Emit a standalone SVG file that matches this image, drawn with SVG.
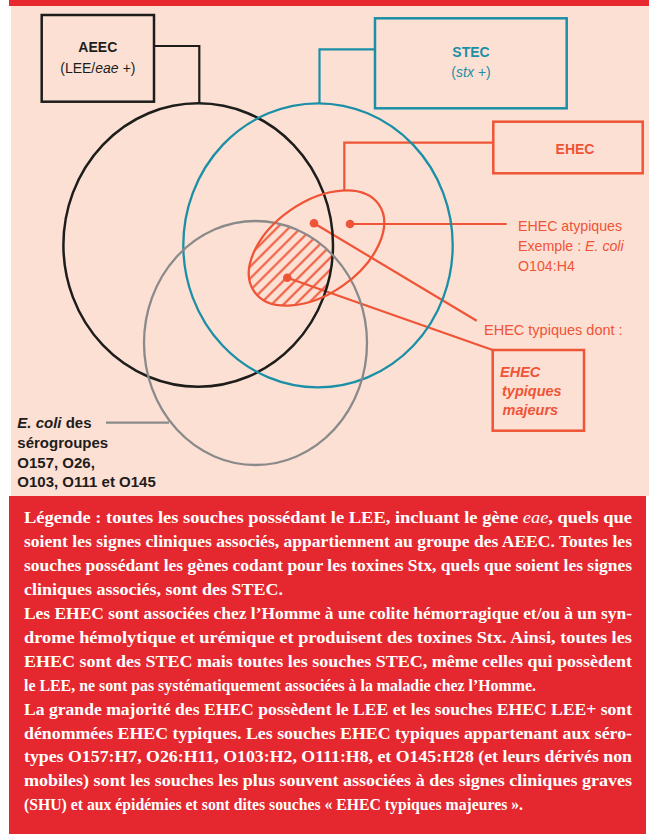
<svg xmlns="http://www.w3.org/2000/svg" width="649" height="834" viewBox="0 0 649 834">
<style>
.sans{font-family:"Liberation Sans",Arial,sans-serif}
.blk{fill:#1d1d1b}
.teal{fill:#1b8fa6}
.red{fill:#ef5436}
.leg{font-family:"Liberation Serif","Times New Roman",serif;font-weight:bold;font-size:17px;fill:#ffffff}
.box{fill:none;stroke-width:2.5}
.conn{fill:none;stroke-width:2.2}
</style>
<defs>
<pattern id="hatch" width="12" height="8.4" patternUnits="userSpaceOnUse" patternTransform="rotate(-45)">
<line x1="0" y1="4.2" x2="12" y2="4.2" stroke="#ef5436" stroke-width="2"/>
</pattern>
<clipPath id="cEhec"><ellipse cx="316.5" cy="248" rx="76" ry="46" transform="rotate(-35 316.5 248)"/></clipPath>
<clipPath id="cGrey"><ellipse cx="255.5" cy="343" rx="111.5" ry="122"/></clipPath>
<clipPath id="cBlack"><ellipse cx="198.2" cy="245" rx="134.8" ry="141.7"/></clipPath>
</defs>
<rect x="0" y="0" width="649" height="834" fill="#ffffff"/>
<rect x="11" y="5" width="638" height="491" fill="#fde0d4"/>
<rect x="9" y="0" width="640" height="6" fill="#e8282f"/>
<rect x="9" y="496" width="637" height="338" fill="#e5282f"/>

<g id="hatched" clip-path="url(#cEhec)"><g clip-path="url(#cGrey)"><g clip-path="url(#cBlack)">
<rect x="230" y="180" width="160" height="140" fill="url(#hatch)"/>
</g></g></g>

<g id="connectors">
<polyline class="conn" stroke="#1d1d1b" points="154,46 199.3,46 199.3,103.5"/>
<polyline class="conn" stroke="#1b8fa6" points="375,49.3 319.5,49.3 319.5,103.5"/>
<polyline class="conn" stroke="#ef5436" points="493.3,142.7 344.3,142.7 344.3,190"/>
<line class="conn" stroke="#8a8a8a" x1="106" y1="422.7" x2="169" y2="422.7"/>
<line class="conn" stroke="#ef5436" x1="350" y1="224" x2="506.7" y2="224"/>
<line class="conn" stroke="#ef5436" x1="314" y1="223.3" x2="476.7" y2="320.7"/>
<line class="conn" stroke="#ef5436" x1="287.3" y1="277.7" x2="492.7" y2="350"/>
</g>

<g id="circle-aeec"><ellipse cx="198.2" cy="245" rx="134.8" ry="141.7" fill="none" stroke="#1d1d1b" stroke-width="2.5"/></g>
<g id="circle-stec"><ellipse cx="318" cy="245.3" rx="134.7" ry="142" fill="none" stroke="#1b8fa6" stroke-width="2.3"/></g>
<g id="circle-sero"><ellipse cx="255.5" cy="343" rx="111.5" ry="122" fill="none" stroke="#8a8a8a" stroke-width="2.3"/></g>
<g id="ellipse-ehec"><ellipse cx="316.5" cy="248" rx="76" ry="46" transform="rotate(-35 316.5 248)" fill="none" stroke="#ef5436" stroke-width="2.3"/></g>

<g id="dots" fill="#ef5436">
<circle cx="314" cy="223.3" r="4.3"/>
<circle cx="287.3" cy="277.7" r="4.3"/>
<circle cx="350" cy="224" r="4.3"/>
</g>

<g id="node-aeec">
<rect class="box" x="41.7" y="15" width="112.3" height="86.7" stroke="#1d1d1b"/>
<text class="sans blk" x="97.8" y="51.7" font-size="14" font-weight="bold" text-anchor="middle">AEEC</text>
<text class="sans blk" x="97.8" y="72.7" font-size="14" text-anchor="middle">(LEE/<tspan font-style="italic">eae +</tspan>)</text>
</g>

<g id="node-stec">
<rect class="box" x="375" y="18.3" width="191.7" height="90" stroke="#1b8fa6"/>
<text class="sans teal" x="471" y="56.7" font-size="14" font-weight="bold" text-anchor="middle">STEC</text>
<text class="sans teal" x="471" y="77.3" font-size="14" text-anchor="middle">(<tspan font-style="italic">stx +</tspan>)</text>
</g>

<g id="node-ehec">
<rect class="box" x="493.3" y="121.7" width="149.4" height="51.6" stroke="#ef5436"/>
<text class="sans red" x="575" y="154" font-size="14" font-weight="bold" text-anchor="middle">EHEC</text>
</g>

<g id="label-atypiques" class="sans red" font-size="14.2">
<text x="518" y="230.7">EHEC atypiques</text>
<text x="518" y="250.7">Exemple : <tspan font-style="italic">E. coli</tspan></text>
<text x="518" y="270.7">O104:H4</text>
</g>

<g id="label-typiques">
<text class="sans red" x="484" y="335" font-size="14.5">EHEC typiques dont :</text>
</g>

<g id="node-majeurs">
<rect class="box" x="492.7" y="350" width="91.3" height="80.7" stroke="#ef5436"/>
<g class="sans red" font-size="14.5" font-weight="bold" font-style="italic">
<text x="500" y="376.7">EHEC</text>
<text x="502" y="395.5">typiques</text>
<text x="502.5" y="415">majeurs</text>
</g>
</g>

<g id="label-sero" class="sans blk" font-size="15" font-weight="bold">
<text x="17.3" y="427.7"><tspan font-style="italic">E. coli</tspan> des</text>
<text x="17.3" y="447.7">sérogroupes</text>
<text x="17.3" y="467.7">O157, O26,</text>
<text x="17.3" y="486.7">O103, O111 et O145</text>
</g>

<g id="legend" class="leg">
<text x="24" y="523.3" textLength="608" lengthAdjust="spacingAndGlyphs">Légende : toutes les souches possédant le LEE, incluant le gène <tspan font-style="italic" font-weight="normal">eae</tspan>, quels que</text>
<text x="24" y="547.3" textLength="608" lengthAdjust="spacingAndGlyphs">soient les signes cliniques associés, appartiennent au groupe des AEEC. Toutes les</text>
<text x="24" y="571.2" textLength="608" lengthAdjust="spacingAndGlyphs">souches possédant les gènes codant pour les toxines Stx, quels que soient les signes</text>
<text x="24" y="595.1" textLength="259" lengthAdjust="spacingAndGlyphs">cliniques associés, sont des STEC.</text>
<text x="24" y="619" textLength="608" lengthAdjust="spacingAndGlyphs">Les EHEC sont associées chez l’Homme à une colite hémorragique et/ou à un syn-</text>
<text x="24" y="642.9" textLength="608" lengthAdjust="spacingAndGlyphs">drome hémolytique et urémique et produisent des toxines Stx. Ainsi, toutes les</text>
<text x="24" y="666.8" textLength="608" lengthAdjust="spacingAndGlyphs">EHEC sont des STEC mais toutes les souches STEC, même celles qui possèdent</text>
<text x="24" y="690.7" textLength="512" lengthAdjust="spacingAndGlyphs">le LEE, ne sont pas systématiquement associées à la maladie chez l’Homme.</text>
<text x="24" y="714.6" textLength="608" lengthAdjust="spacingAndGlyphs">La grande majorité des EHEC possèdent le LEE et les souches EHEC LEE+ sont</text>
<text x="24" y="738.5" textLength="608" lengthAdjust="spacingAndGlyphs">dénommées EHEC typiques. Les souches EHEC typiques appartenant aux séro-</text>
<text x="24" y="762.4" textLength="608" lengthAdjust="spacingAndGlyphs">types O157:H7, O26:H11, O103:H2, O111:H8, et O145:H28 (et leurs dérivés non</text>
<text x="24" y="786.3" textLength="608" lengthAdjust="spacingAndGlyphs">mobiles) sont les souches les plus souvent associées à des signes cliniques graves</text>
<text x="24" y="810.2" textLength="499" lengthAdjust="spacingAndGlyphs">(SHU) et aux épidémies et sont dites souches « EHEC typiques majeures ».</text>
</g>
</svg>
